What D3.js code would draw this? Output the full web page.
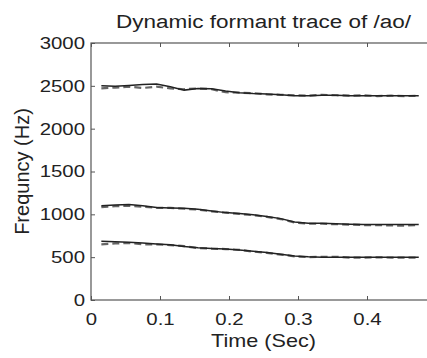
<!DOCTYPE html>
<html>
<head>
<meta charset="utf-8">
<script src="https://cdn.jsdelivr.net/npm/d3@7"></script>
<style>
  body { margin: 0; background: #fff; }
  svg { display: block; font-family: "Liberation Sans", Arial, sans-serif; }
</style>
</head>
<body>
<div id="chart"></div>
<script>
// formant tracks of /ao/
const times = [0.015, 0.035, 0.055, 0.075, 0.095, 0.115, 0.135, 0.155, 0.175, 0.195, 0.215, 0.235,
               0.255, 0.275, 0.295, 0.315, 0.335, 0.355, 0.375, 0.395, 0.415, 0.435, 0.455, 0.475];
const f3Solid  = [2500, 2495, 2505, 2515, 2520, 2490, 2450, 2470, 2465, 2440, 2420, 2410,
                  2405, 2395, 2385, 2385, 2390, 2390, 2385, 2385, 2385, 2385, 2385, 2385];
const f3Dashed = [2470, 2480, 2490, 2475, 2490, 2470, 2460, 2470, 2460, 2425, 2420, 2415,
                  2400, 2395, 2390, 2385, 2395, 2390, 2385, 2390, 2380, 2385, 2380, 2385];
const f2Solid  = [1100, 1110, 1115, 1100, 1080, 1075, 1070, 1060, 1040, 1020, 1010, 995,
                  975, 950, 910, 895, 895, 890, 885, 880, 880, 882, 882, 880];
const f2Dashed = [1085, 1095, 1100, 1090, 1075, 1075, 1065, 1055, 1035, 1020, 1005, 990,
                  970, 945, 905, 890, 890, 885, 880, 875, 875, 870, 868, 875];
const f1Solid  = [685, 680, 675, 665, 655, 645, 625, 610, 600, 595, 585, 570,
                  555, 535, 515, 505, 500, 500, 500, 500, 500, 498, 498, 498];
const f1Dashed = [650, 660, 665, 650, 650, 640, 630, 605, 600, 595, 585, 565,
                  550, 530, 510, 500, 505, 505, 495, 495, 498, 495, 495, 495];
const xTicks = [0, 0.1, 0.2, 0.3, 0.4];
const yTicks = [0, 500, 1000, 1500, 2000, 2500, 3000];

const width = 427, height = 358;
const margin = { top: 43, right: -9, bottom: 58, left: 91 };
const stretch = 1.2; // the picture's text is wider than tall

const svg = d3.select("#chart").append("svg")
  .attr("width", width)
  .attr("height", height);

const x = d3.scaleLinear().domain([0, 0.5]).range([margin.left, width - margin.right]);
const y = d3.scaleLinear().domain([0, 3000]).range([height - margin.bottom, margin.top]);

const axisColor = "#555";
const textColor = "#222";

// box
svg.append("rect")
  .attr("x", x(0)).attr("y", y(3000))
  .attr("width", x(0.5) - x(0)).attr("height", y(0) - y(3000))
  .attr("fill", "none").attr("stroke", axisColor).attr("stroke-width", 1.2);

// bottom axis
svg.append("g")
  .attr("class", "xaxis")
  .attr("transform", "translate(0," + y(0) + ")")
  .call(d3.axisBottom(x).tickValues(xTicks).tickSizeInner(-4).tickSizeOuter(0).tickPadding(12).tickFormat(d3.format("")));
// top ticks
svg.append("g")
  .attr("transform", "translate(0," + y(3000) + ")")
  .call(d3.axisTop(x).tickValues(xTicks).tickSizeInner(-4).tickSizeOuter(0).tickFormat(""));
// left axis
svg.append("g")
  .attr("class", "yaxis")
  .attr("transform", "translate(" + x(0) + ",0)")
  .call(d3.axisLeft(y).tickValues(yTicks).tickSizeInner(-4).tickSizeOuter(0).tickPadding(6).tickFormat(d3.format("")));

svg.selectAll(".domain").remove();
svg.selectAll(".tick line").attr("stroke", axisColor);
svg.selectAll(".tick text")
  .attr("fill", textColor)
  .attr("transform", "scale(" + stretch + ",1)")
  .style("font-size", "17px");
svg.selectAll(".yaxis .tick text").attr("x", -5);
svg.selectAll(".xaxis .tick text").attr("dy", "0.78em");

// lines
const line = vals => d3.line()
  .x((d, i) => x(times[i]))
  .y(d => y(d))(vals);

[f3Dashed, f2Dashed, f1Dashed].forEach(s => {
  svg.append("path")
    .attr("d", line(s))
    .attr("fill", "none")
    .attr("stroke", "#666")
    .attr("stroke-width", 2.2)
    .attr("stroke-dasharray", "7,4");
});
[f3Solid, f2Solid, f1Solid].forEach(s => {
  svg.append("path")
    .attr("d", line(s))
    .attr("fill", "none")
    .attr("stroke", "#222")
    .attr("stroke-width", 1.5);
});

// labels
svg.append("text")
  .attr("transform", "translate(" + (x(0) + x(0.5)) / 2 + ",28) scale(1.25,1)")
  .attr("text-anchor", "middle")
  .attr("fill", textColor)
  .style("font-size", "18px")
  .text("Dynamic formant trace of /ao/");

svg.append("text")
  .attr("transform", "translate(" + (x(0) + x(0.5)) / 2 + ",347) scale(" + stretch + ",1)")
  .attr("text-anchor", "middle")
  .attr("fill", textColor)
  .style("font-size", "18px")
  .text("Time (Sec)");

svg.append("text")
  .attr("transform", "translate(29," + (y(0) + y(3000)) / 2 + ") rotate(-90)")
  .attr("text-anchor", "middle")
  .attr("fill", textColor)
  .style("font-size", "20px")
  .text("Frequncy (Hz)");
</script>
</body>
</html>
